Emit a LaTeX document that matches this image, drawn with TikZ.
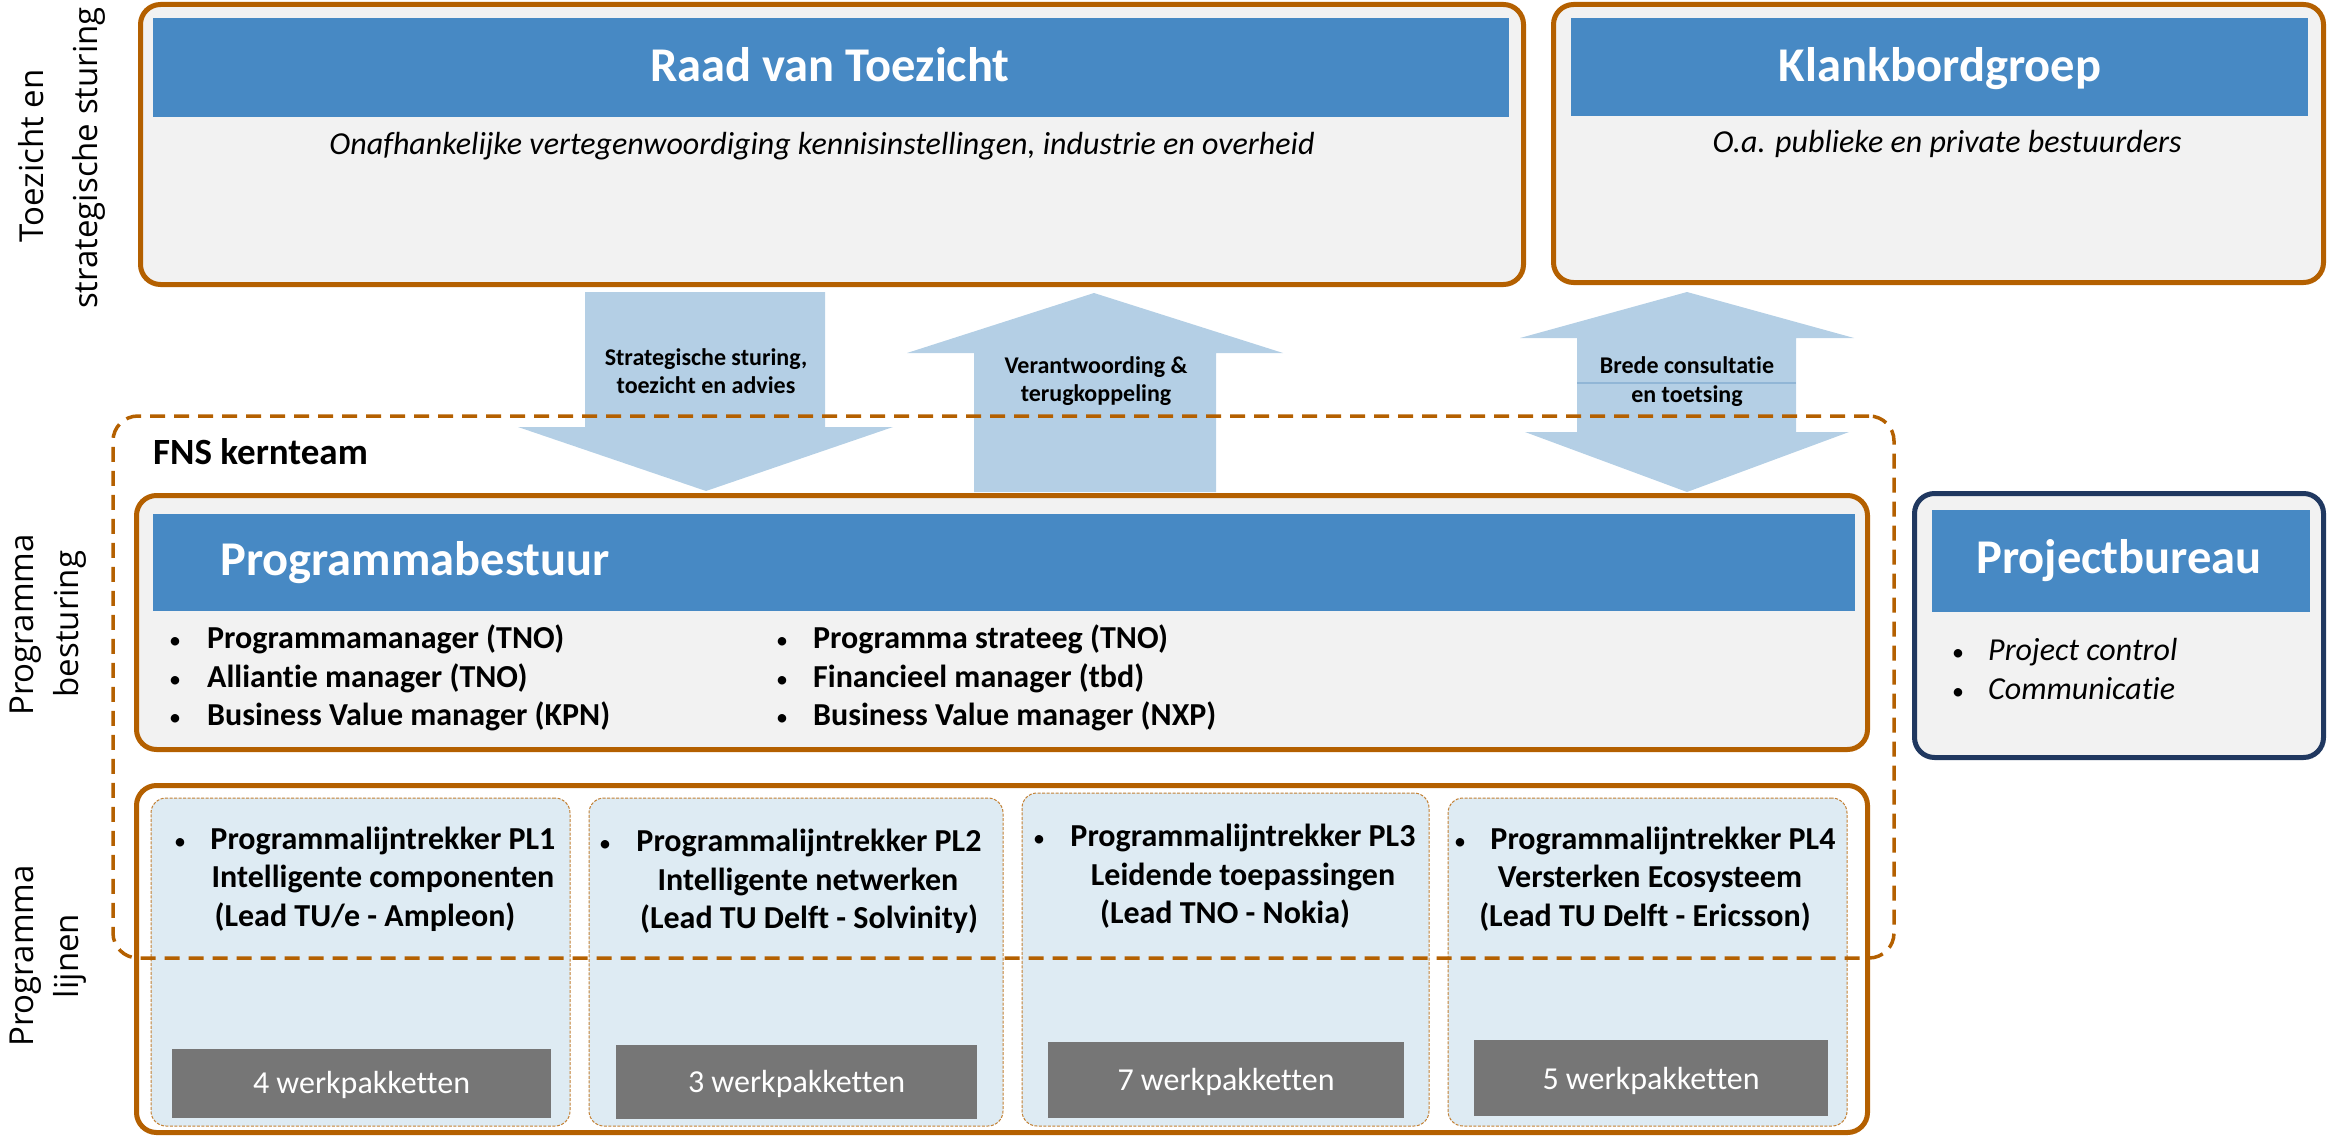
\documentclass[tikz,border=0pt]{standalone}
\usepackage{fontspec}
\setmainfont{Carlito}[Ligatures=NoCommon]
\newfontfamily\sidefont{Open Sans}
\definecolor{rust}{RGB}{180,96,0}
\definecolor{barblue}{RGB}{71,137,196}
\definecolor{panel}{RGB}{242,242,242}
\definecolor{flow}{RGB}{180,207,229}
\definecolor{flowline}{RGB}{145,182,214}
\definecolor{lane}{RGB}{222,235,243}
\definecolor{slate}{RGB}{118,118,118}
\definecolor{navy}{RGB}{32,56,96}
\begin{document}
\begin{tikzpicture}[x=1pt,y=-1pt,
  panelbox/.style={draw=rust,line width=5pt,fill=panel,rounded corners=20pt,inner sep=0pt,outer sep=0pt},
  bar/.style={fill=barblue,inner sep=0pt,outer sep=0pt},
  bartext/.style={anchor=base,text=white,inner sep=0pt,font=\fontsize{48.5}{52}\selectfont\bfseries},
  subtext/.style={anchor=base,inner sep=0pt,font=\fontsize{32}{38}\selectfont\itshape},
  flowtext/.style={anchor=base,inner sep=0pt,font=\fontsize{24}{28}\selectfont\bfseries},
  itemtext/.style={anchor=base west,inner sep=0pt,font=\fontsize{32}{38}\selectfont\bfseries},
  dot/.style={anchor=base,inner sep=0pt,font=\fontsize{24}{30}\selectfont},
  linetext/.style={anchor=base,inner sep=0pt,font=\fontsize{32}{38}\selectfont\bfseries},
  lanebox/.style={draw=rust!80,fill=lane,line width=1pt,dash pattern=on 3pt off 1.5pt,rounded corners=15pt,inner sep=0pt,outer sep=0pt},
  wpbox/.style={fill=slate,inner sep=0pt,outer sep=0pt},
  wptext/.style={anchor=base,text=white,inner sep=0pt,font=\fontsize{32}{36}\selectfont},
  sidelabel/.style={rotate=90,anchor=base,inner sep=0pt,font=\sidefont\fontsize{33}{40}\selectfont},
  fnsbox/.style={draw=rust,line width=3.5pt,dash pattern=on 15pt off 9pt,rounded corners=25pt,inner sep=0pt,outer sep=0pt}]
  \useasboundingbox (0,0) rectangle (2341,1137);
  % Side labels
  \node[sidelabel] (lbltop1) at (43,156) {Toezicht en};
  \node[sidelabel] (lbltop2) at (97,158) {strategische sturing};
  \node[sidelabel] (lblmid1) at (33,625) {Programma};
  \node[sidelabel] (lblmid2) at (78,624) {besturing};
  \node[sidelabel] (lblbot1) at (33,956) {Programma};
  \node[sidelabel] (lblbot2) at (78,956) {lijnen};
  % Raad van Toezicht
  \node[panelbox,minimum width=1383pt,minimum height=280pt] (raad) at (832,144.5) {};
  \node[bar,minimum width=1356pt,minimum height=99pt] (raadbar) at (831,67.5) {};
  \node[bartext] (raadtitle) at (830,82) {Raad van Toezicht};
  \node[subtext] (raadsub) at (822,154) {Onafhankelijke vertegenwoordiging kennisinstellingen, industrie en overheid};
  % Klankbordgroep
  \node[panelbox,minimum width=770pt,minimum height=278pt] (klank) at (1938.5,143.5) {};
  \node[bar,minimum width=737pt,minimum height=98pt] (klankbar) at (1939.5,67) {};
  \node[bartext] (klanktitle) at (1940,82) {Klankbordgroep};
  \node[subtext] (klanksub) at (1947,153) {O.a. publieke en private bestuurders};
  % Flow arrows
  \fill[flow] (585,292) -- (825,292) -- (825,427) -- (893,427) -- (706,491) -- (518,427) -- (585,427) -- cycle;
  \fill[flow] (1094,293) -- (1283,353) -- (1216,353) -- (1216,492) -- (974,492) -- (974,353) -- (907,353) -- cycle;
  \fill[flow] (1687,292) -- (1854,338) -- (1796,338) -- (1796,432) -- (1849,432) -- (1687,492) -- (1525,432) -- (1577,432) -- (1577,338) -- (1520,338) -- cycle;
  \draw[flowline,line width=1.5pt] (1577,383) -- (1796,383);
  \node[flowtext] (steer1) at (706,365) {Strategische sturing,};
  \node[flowtext] (steer2) at (706,393) {toezicht en advies};
  \node[flowtext] (report1) at (1096,373) {Verantwoording \&};
  \node[flowtext] (report2) at (1096,401) {terugkoppeling};
  \node[flowtext] (consult1) at (1687,373) {Brede consultatie};
  \node[flowtext] (consult2) at (1687,402) {en toetsing};
  % Programmabestuur
  \node[anchor=base west,inner sep=0pt,font=\fontsize{37}{42}\selectfont\bfseries] (fnslabel) at (153,464) {FNS kernteam};
  \node[panelbox,minimum width=1731pt,minimum height=254pt] (bestuur) at (1002,622.5) {};
  \node[bar,minimum width=1702pt,minimum height=97pt] (bestuurbar) at (1004,562.5) {};
  \node[bartext,anchor=base west] (bestuurtitle) at (220,575) {Programmabestuur};
  \node[dot] (b1) at (175,648) {•};
  \node[itemtext] (pm) at (207,648) {Programmamanager (TNO)};
  \node[dot] (b2) at (175,687) {•};
  \node[itemtext] (am) at (207,687) {Alliantie manager (TNO)};
  \node[dot] (b3) at (175,725) {•};
  \node[itemtext] (bvkpn) at (207,725) {Business Value manager (KPN)};
  \node[dot] (b4) at (782,648) {•};
  \node[itemtext] (ps) at (813,648) {Programma strateeg (TNO)};
  \node[dot] (b5) at (782,687) {•};
  \node[itemtext] (fm) at (813,687) {Financieel manager (tbd)};
  \node[dot] (b6) at (782,725) {•};
  \node[itemtext] (bvnxp) at (813,725) {Business Value manager (NXP)};
  % Projectbureau
  \node[panelbox,draw=navy,minimum width=409pt,minimum height=264pt] (bureau) at (2119,625.5) {};
  \node[bar,minimum width=378pt,minimum height=102pt] (bureaubar) at (2121,561) {};
  \node[bartext] (bureautitle) at (2119,573) {Projectbureau};
  \node[dot] (b7) at (1958,660) {•};
  \node[itemtext,font=\fontsize{32}{38}\selectfont\itshape] (pc) at (1988,660) {Project control};
  \node[dot] (b8) at (1958,699) {•};
  \node[itemtext,font=\fontsize{32}{38}\selectfont\itshape] (com) at (1988,699) {Communicatie};
  % Programmalijnen
  \node[panelbox,fill=white,minimum width=1731pt,minimum height=347pt] (lijnen) at (1002,959) {};
  \node[lanebox,minimum width=419pt,minimum height=328pt] (pl1) at (360.5,962) {};
  \node[lanebox,minimum width=414pt,minimum height=328pt] (pl2) at (796,962) {};
  \node[lanebox,minimum width=407pt,minimum height=333pt] (pl3) at (1225.5,959.5) {};
  \node[lanebox,minimum width=399pt,minimum height=328pt] (pl4) at (1647.5,962) {};
  \node[dot] (d1) at (180,849) {•};
  \node[linetext] (pl1a) at (383,849) {Programmalijntrekker PL1};
  \node[linetext] (pl1b) at (383,887) {Intelligente componenten};
  \node[linetext] (pl1c) at (365,926) {(Lead TU/e - Ampleon)};
  \node[dot] (d2) at (605,851) {•};
  \node[linetext] (pl2a) at (809,851) {Programmalijntrekker PL2};
  \node[linetext] (pl2b) at (808,890) {Intelligente netwerken};
  \node[linetext] (pl2c) at (809,928) {(Lead TU Delft - Solvinity)};
  \node[dot] (d3) at (1039,846) {•};
  \node[linetext] (pl3a) at (1243,846) {Programmalijntrekker PL3};
  \node[linetext] (pl3b) at (1243,885) {Leidende toepassingen};
  \node[linetext] (pl3c) at (1225,923) {(Lead TNO - Nokia)};
  \node[dot] (d4) at (1460,849) {•};
  \node[linetext] (pl4a) at (1663,849) {Programmalijntrekker PL4};
  \node[linetext] (pl4b) at (1650,887) {Versterken Ecosysteem};
  \node[linetext] (pl4c) at (1645,926) {(Lead TU Delft - Ericsson)};
  % Werkpakketten
  \node[wpbox,minimum width=379pt,minimum height=69pt] (wp1) at (361.5,1083.5) {};
  \node[wptext] (wp1t) at (361.5,1093) {4 werkpakketten};
  \node[wpbox,minimum width=361pt,minimum height=74pt] (wp2) at (796.5,1082) {};
  \node[wptext] (wp2t) at (796.5,1092) {3 werkpakketten};
  \node[wpbox,minimum width=356pt,minimum height=76pt] (wp3) at (1226,1080) {};
  \node[wptext] (wp3t) at (1226,1090) {7 werkpakketten};
  \node[wpbox,minimum width=354pt,minimum height=76pt] (wp4) at (1651,1078) {};
  \node[wptext] (wp4t) at (1651,1089) {5 werkpakketten};
  % FNS kernteam outline
  \node[fnsbox,minimum width=1781pt,minimum height=542pt] (fns) at (1003.5,687) {};
\end{tikzpicture}
\end{document}
